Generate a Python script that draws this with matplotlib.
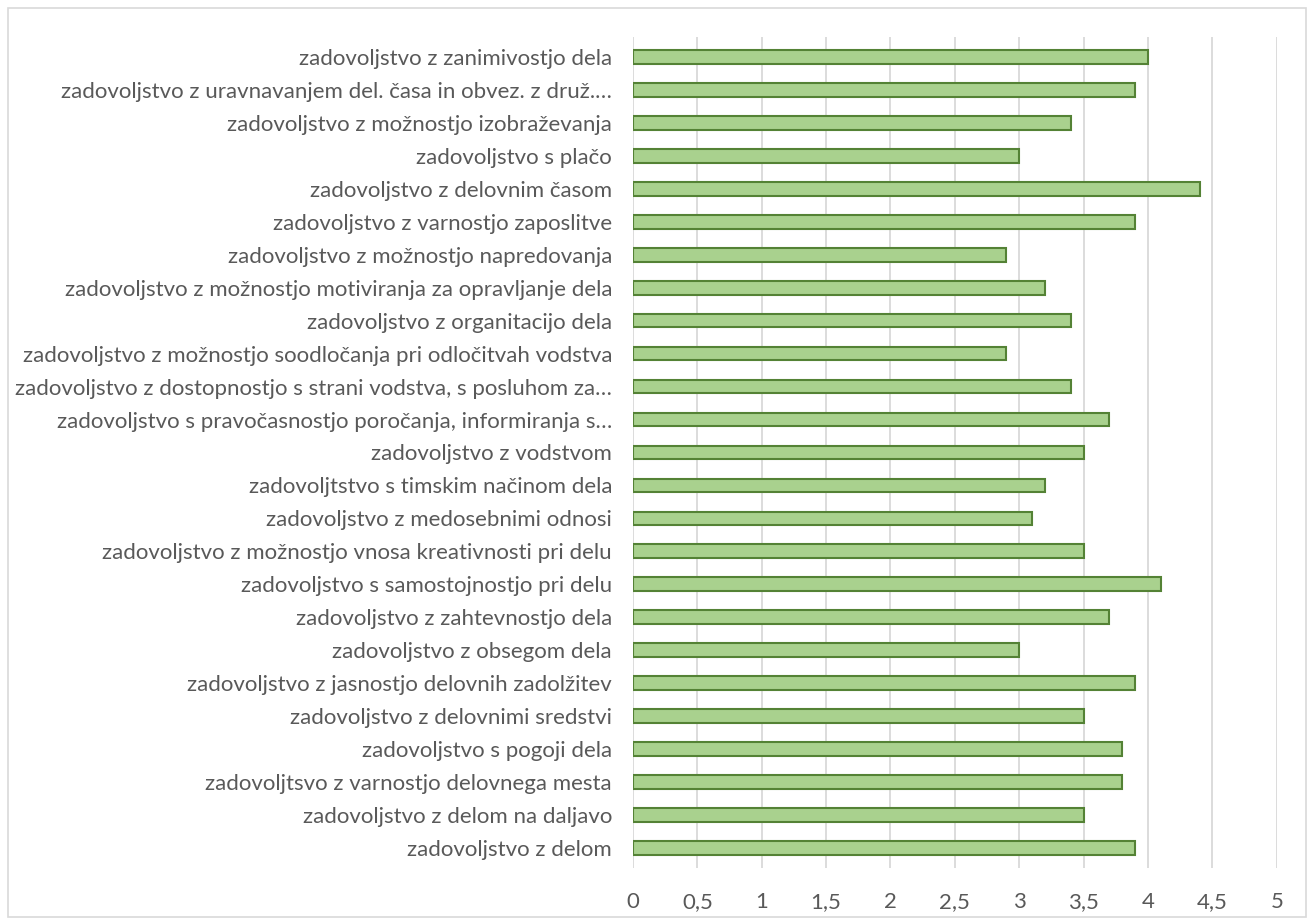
import matplotlib.pyplot as plt
from matplotlib.patches import Rectangle
from matplotlib.ticker import FuncFormatter

plt.rcParams['font.family'] = ['Lato', 'DejaVu Sans']

labels = [
    "zadovoljstvo z zanimivostjo dela",
    "zadovoljstvo z uravnavanjem del. časa in obvez. z druž.…",
    "zadovoljstvo z možnostjo izobraževanja",
    "zadovoljstvo s plačo",
    "zadovoljstvo z delovnim časom",
    "zadovoljstvo z varnostjo zaposlitve",
    "zadovoljstvo z možnostjo napredovanja",
    "zadovoljstvo z možnostjo motiviranja za opravljanje dela",
    "zadovoljstvo z organitacijo dela",
    "zadovoljstvo z možnostjo soodločanja pri odločitvah vodstva",
    "zadovoljstvo z dostopnostjo s strani vodstva, s posluhom za…",
    "zadovoljstvo s pravočasnostjo poročanja, informiranja s…",
    "zadovoljstvo z vodstvom",
    "zadovoljtstvo s timskim načinom dela",
    "zadovoljstvo z medosebnimi odnosi",
    "zadovoljstvo z možnostjo vnosa kreativnosti pri delu",
    "zadovoljstvo s samostojnostjo pri delu",
    "zadovoljstvo z zahtevnostjo dela",
    "zadovoljstvo z obsegom dela",
    "zadovoljstvo z jasnostjo delovnih zadolžitev",
    "zadovoljstvo z delovnimi sredstvi",
    "zadovoljstvo s pogoji dela",
    "zadovoljtsvo z varnostjo delovnega mesta",
    "zadovoljstvo z delom na daljavo",
    "zadovoljstvo z delom",
]
values = [4.0, 3.9, 3.4, 3.0, 4.4, 3.9, 2.9, 3.2, 3.4, 2.9, 3.4, 3.7, 3.5,
          3.2, 3.1, 3.5, 4.1, 3.7, 3.0, 3.9, 3.5, 3.8, 3.8, 3.5, 3.9]

fig = plt.figure(figsize=(13.14, 9.24), dpi=100)
ax = fig.add_axes([0.4817, 0.0606, 0.49, 0.8994])

pos = list(range(len(labels)))[::-1]
ax.barh(pos, values, height=0.42, color='#A9D18E', edgecolor='#548235', linewidth=1.5, zorder=3)

ax.set_xlim(0, 5)
ax.set_ylim(-0.6, len(labels) - 0.4)
ax.set_xticks([i * 0.5 for i in range(11)])
ax.xaxis.set_major_formatter(FuncFormatter(lambda v, p: ('%g' % v).replace('.', ',')))
ax.set_yticks(pos)
ax.set_yticklabels(labels)
ax.grid(axis='x', color='#D9D9D9', linewidth=1.3, zorder=0)
for s in ax.spines.values():
    s.set_visible(False)
ax.tick_params(axis='both', length=0, colors='#595959', labelsize=16)
ax.tick_params(axis='y', pad=15)
ax.tick_params(axis='x', pad=17)

fig.patches.append(Rectangle((0.006, 0.008), 0.988, 0.983, transform=fig.transFigure,
                             fill=False, edgecolor='#D9D9D9', linewidth=1.2))

fig.savefig("out.png", dpi=100)
